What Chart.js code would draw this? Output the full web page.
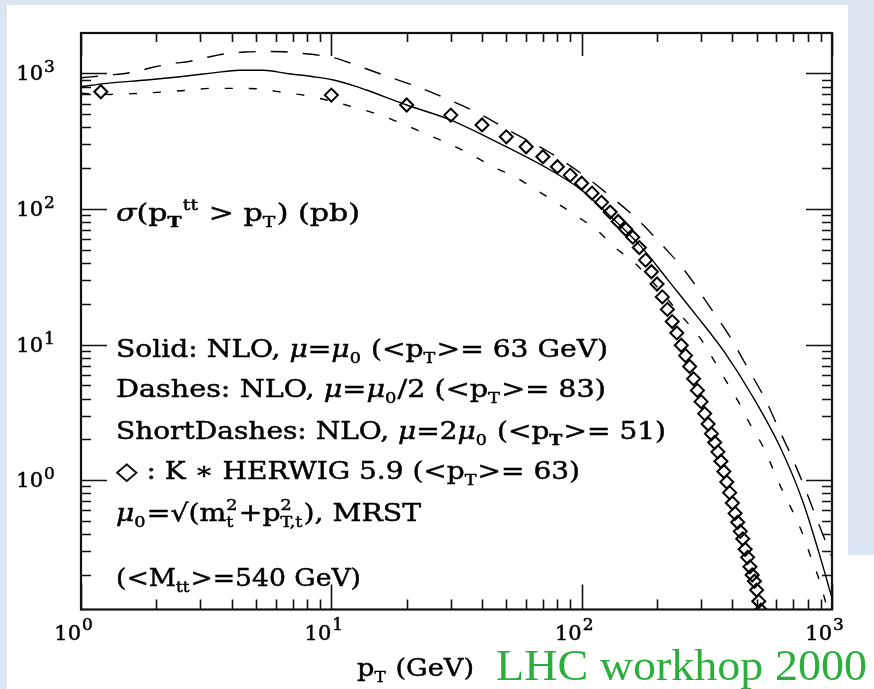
<!DOCTYPE html>
<html><head><meta charset="utf-8">
<script src="https://cdn.jsdelivr.net/npm/chart.js@4.4.1/dist/chart.umd.min.js"></script>
<style>html,body{margin:0;padding:0;background:#dce6f2;overflow:hidden}canvas{display:block}</style>
</head><body><canvas id="c" width="874" height="689"></canvas>
<script>
// ---- data ----
// Solid: NLO, mu = mu0
const nloPt    = [1, 1.27, 1.83, 2.49, 3.38, 4.3, 5.35, 6.64, 8.47, 10.2, 12.6, 13.8, 20, 30, 47, 75, 100, 120, 172, 223, 288, 372, 480, 621, 762, 888, 984, 1000];
const nloSigma = [800, 845, 894, 946, 1010, 1055, 1055, 1000, 946, 894, 800, 755, 585, 453, 305, 194, 138, 102, 53.3, 29.4, 16.3, 8.8, 4.2, 1.75, 0.71, 0.29, 0.15, 0.135];
// Dashes: NLO, mu = mu0/2
const halfPt    = [1, 1.31, 1.65, 1.94, 2.3, 2.73, 3.22, 3.82, 4.52, 5.35, 6.4, 7.5, 8.85, 10.5, 11.5, 15.8, 21.6, 29.6, 39.9, 53, 72.5, 98.3, 129, 167, 212, 260, 322, 387, 459, 543, 623, 694, 790, 879, 1000];
const halfSigma = [930, 973, 1030, 1110, 1180, 1230, 1320, 1400, 1440, 1450, 1445, 1410, 1365, 1290, 1220, 988, 810, 637, 494, 367, 269, 186, 126, 84, 53, 34.5, 19.5, 11.8, 6.8, 3.9, 2.24, 1.46, 0.82, 0.49, 0.27];
// ShortDashes: NLO, mu = 2 mu0
const twoPt    = [1, 1.3, 1.7, 2.2, 2.75, 3.3, 4.1, 5.1, 6.45, 8.05, 12.5, 15.6, 19.4, 24, 29.3, 36, 44.3, 54, 66, 80, 97, 115, 136, 163, 258, 296, 337, 375, 421, 473, 526, 577, 632, 693, 760, 821, 893, 950, 1000];
const twoSigma = [715, 700, 713, 733, 754, 776, 776, 770, 723, 683, 560, 494, 423, 356, 305, 253, 205, 173, 138, 110, 87, 70, 52, 40, 15.3, 11.3, 7.7, 5.5, 3.85, 2.55, 1.82, 1.25, 0.85, 0.6, 0.41, 0.275, 0.18, 0.12, 0.085];
// Diamonds: K * HERWIG 5.9
const herwigPt    = [1.2, 10, 20, 30, 40, 50, 60, 70, 80, 90, 100, 110, 120, 130, 140, 150, 160, 170, 180, 190, 200, 210, 220, 230, 240, 250, 260, 270, 280, 290, 300, 310, 320, 330, 340, 350, 360, 370, 380, 390, 400, 410, 420, 430, 440, 450, 460, 470, 480, 490, 500, 510, 520];
const herwigSigma = [733, 692, 585, 493, 417, 341, 288, 243, 205, 178, 155, 131, 112, 95, 81, 71, 62, 52, 42, 34.5, 28, 22.5, 18.2, 14.8, 12.2, 9.9, 8.3, 6.9, 5.6, 4.6, 3.8, 3.1, 2.6, 2.2, 1.9, 1.62, 1.38, 1.16, 0.97, 0.81, 0.68, 0.57, 0.49, 0.42, 0.37, 0.31, 0.27, 0.23, 0.2, 0.18, 0.155, 0.128, 0.11];
// axis ticks
const xDecades = [1, 10, 100, 1000];
const xDecadeLabels = ['0', '1', '2', '3'];
const yDecades = [1, 10, 100, 1000];
const yDecadeLabels = ['0', '1', '2', '3'];
const xMin = 1, xMax = 1000, yMin = 0.1114, yMax = 1987;

const pts = (xs, ys) => xs.map((x, i) => ({x: x, y: ys[i]}));

const SERIF = '"DejaVu Serif", serif';
function drawRich(ctx, segs, x, y, targetW, size, family, thick) {
  family = family || SERIF;
  const small = Math.round(size * 0.64);
  const parts = segs.map(s => {
    const t = s[0], st = s[1] || 'n';
    let p = {t: t, st: st};
    if (st === 'n' || st === 'it') { p.font = (st === 'it' ? 'italic ' : '') + size + 'px ' + family; ctx.font = p.font; p.w = ctx.measureText(t).width; }
    else if (st === 'sub' || st === 'subb') { p.font = (st === 'subb' ? 'bold ' : '') + small + 'px ' + family; ctx.font = p.font; p.w = ctx.measureText(t).width + 1; p.dy = size * 0.26; }
    else if (st === 'sup') { p.font = small + 'px ' + family; ctx.font = p.font; p.w = ctx.measureText(t).width + 1; p.dy = -size * 0.45; }
    else if (st === 'stack') { p.font = small + 'px ' + family; ctx.font = p.font; p.w = Math.max(ctx.measureText(t.sup).width, ctx.measureText(t.sub).width) + 1; }
    return p;
  });
  const total = parts.reduce((a, p) => a + p.w, 0);
  const sx = targetW ? targetW / total : 1;
  ctx.save();
  ctx.translate(x, y);
  ctx.scale(sx, 1);
  ctx.textBaseline = 'alphabetic';
  ctx.textAlign = 'left';
  ctx.lineWidth = thick || 0;
  ctx.strokeStyle = ctx.fillStyle;
  const put = (t, px, py) => { ctx.fillText(t, px, py); if (thick) ctx.strokeText(t, px, py); };
  let cx = 0;
  parts.forEach(p => {
    ctx.font = p.font;
    if (p.st === 'stack') {
      put(p.t.sup, cx, -size * 0.45);
      put(p.t.sub, cx, size * 0.26);
    } else {
      put(p.t, cx, p.dy || 0);
    }
    cx += p.w;
  });
  ctx.restore();
}

const texts = [
  {segs: [['σ', 'it'], ['(p'], ['T', 'subb'], ['tt', 'sup'], [' > p'], ['T', 'sub'], [') (pb)']], x: 116, y: 221, w: 244},
  {segs: [['Solid: NLO, '], ['μ', 'it'], ['='], ['μ', 'it'], ['0', 'sub'], [' (<p'], ['T', 'sub'], ['>= 63 GeV)']], x: 116, y: 357, w: 492},
  {segs: [['Dashes: NLO, '], ['μ', 'it'], ['='], ['μ', 'it'], ['0', 'sub'], ['/2 (<p'], ['T', 'sub'], ['>= 83)']], x: 116, y: 397, w: 490},
  {segs: [['ShortDashes: NLO, '], ['μ', 'it'], ['=2'], ['μ', 'it'], ['0', 'sub'], [' (<p'], ['T', 'subb'], ['>= 51)']], x: 116, y: 439, w: 550},
  {segs: [['◇ : K ∗ HERWIG 5.9 (<p'], ['T', 'sub'], ['>= 63)']], x: 116, y: 479, w: 464},
  {segs: [['μ', 'it'], ['0', 'sub'], ['=√(m'], [{sup: '2', sub: 't'}, 'stack'], ['+p'], [{sup: '2', sub: 'T,t'}, 'stack'], ['), MRST']], x: 116, y: 521, w: 305},
  {segs: [['(<M'], ['tt', 'sub'], ['>=540 GeV)']], x: 116, y: 586, w: 245},
  {segs: [['p'], ['T', 'sub'], [' (GeV)']], x: 357, y: 676, w: 117}
];

const framePlugin = {
  id: 'frame',
  beforeDraw(chart) {
    const ctx = chart.ctx;
    ctx.save();
    ctx.fillStyle = '#dce6f2';
    ctx.fillRect(0, 0, chart.width, chart.height);
    ctx.fillStyle = '#ffffff';
    ctx.fillRect(7, 5, 841, 684);
    ctx.fillRect(848, 555, 26, 134);
    ctx.restore();
  },
  afterDraw(chart) {
    const ctx = chart.ctx, a = chart.chartArea;
    const xs = chart.scales.x, ys = chart.scales.y;
    ctx.save();
    ctx.strokeStyle = '#111';
    ctx.fillStyle = '#000';
    // ticks
    ctx.lineWidth = 1.6;
    ctx.beginPath();
    for (let d = 1; d < xMax; d *= 10) {
      for (let k = 2; k <= 9; k++) {
        const px = Math.round(xs.getPixelForValue(k * d)) + 0.5;
        ctx.moveTo(px, a.bottom); ctx.lineTo(px, a.bottom - 10);
        ctx.moveTo(px, a.top); ctx.lineTo(px, a.top + 9);
      }
    }
    xDecades.forEach(v => {
      const px = Math.round(xs.getPixelForValue(v)) + 0.5;
      ctx.moveTo(px, a.bottom); ctx.lineTo(px, a.bottom - 25);
      ctx.moveTo(px, a.top); ctx.lineTo(px, a.top + 23);
    });
    for (let d = 0.1; d < yMax; d *= 10) {
      for (let k = 2; k <= 9; k++) {
        const v = k * d;
        if (v < yMin || v > yMax) continue;
        const py = Math.round(ys.getPixelForValue(v)) + 0.5;
        ctx.moveTo(a.left, py); ctx.lineTo(a.left + 10, py);
        ctx.moveTo(a.right, py); ctx.lineTo(a.right - 10, py);
      }
    }
    yDecades.forEach(v => {
      const py = Math.round(ys.getPixelForValue(v)) + 0.5;
      ctx.moveTo(a.left, py); ctx.lineTo(a.left + 26, py);
      ctx.moveTo(a.right, py); ctx.lineTo(a.right - 26, py);
    });
    ctx.stroke();
    // frame
    ctx.lineWidth = 2.2;
    ctx.strokeRect(a.left, a.top, a.right - a.left, a.bottom - a.top);
    // tick labels
    ctx.textBaseline = 'alphabetic';
    ctx.lineWidth = 0.5;
    ctx.strokeStyle = '#000';
    const lbl = (t, px, py, size, align) => {
      ctx.font = size + 'px ' + SERIF; ctx.textAlign = align;
      ctx.fillText(t, px, py); ctx.strokeText(t, px, py);
    };
    xDecades.forEach((v, i) => {
      const px = xs.getPixelForValue(v);
      lbl('10', px, 640, 21, 'right');
      lbl(xDecadeLabels[i], px + 1, 630, 17, 'left');
    });
    yDecades.forEach((v, i) => {
      const py = ys.getPixelForValue(v);
      lbl('10', 43, py + 7, 21, 'right');
      lbl(yDecadeLabels[i], 44, py - 1, 17, 'left');
    });
    // annotations
    texts.forEach(t => drawRich(ctx, t.segs, t.x, t.y, t.w, 24, SERIF, 0.45));
    // green workshop label
    ctx.fillStyle = '#2bae3b';
    drawRich(ctx, [['LHC workhop 2000']], 496, 680, 371, 44, '"Liberation Serif", serif', 0);
    ctx.restore();
  }
};

new Chart(document.getElementById('c'), {
  type: 'scatter',
  data: {
    datasets: [
      {label: 'Solid: NLO, mu=mu0', data: pts(nloPt, nloSigma), showLine: true, borderColor: '#000', borderWidth: 1.4, pointRadius: 0, cubicInterpolationMode: 'monotone'},
      {label: 'Dashes: NLO, mu=mu0/2', data: pts(halfPt, halfSigma), showLine: true, borderColor: '#000', borderWidth: 1.4, borderDash: [17, 15], pointRadius: 0, cubicInterpolationMode: 'monotone'},
      {label: 'ShortDashes: NLO, mu=2mu0', data: pts(twoPt, twoSigma), showLine: true, borderColor: '#000', borderWidth: 1.4, borderDash: [8, 16], pointRadius: 0, cubicInterpolationMode: 'monotone'},
      {label: 'K * HERWIG 5.9', data: pts(herwigPt, herwigSigma), showLine: false, pointStyle: 'rectRot', pointRadius: 6.5, pointBorderWidth: 2, pointBorderColor: '#000', pointBackgroundColor: 'rgba(255,255,255,0)'}
    ]
  },
  options: {
    responsive: false,
    animation: false,
    events: [],
    layout: {padding: {left: 81, right: 42, top: 33, bottom: 79.5}},
    plugins: {legend: {display: false}, tooltip: {enabled: false}},
    scales: {
      x: {type: 'logarithmic', min: xMin, max: xMax, display: false},
      y: {type: 'logarithmic', min: yMin, max: yMax, display: false}
    }
  },
  plugins: [framePlugin]
});
</script>
</body></html>
